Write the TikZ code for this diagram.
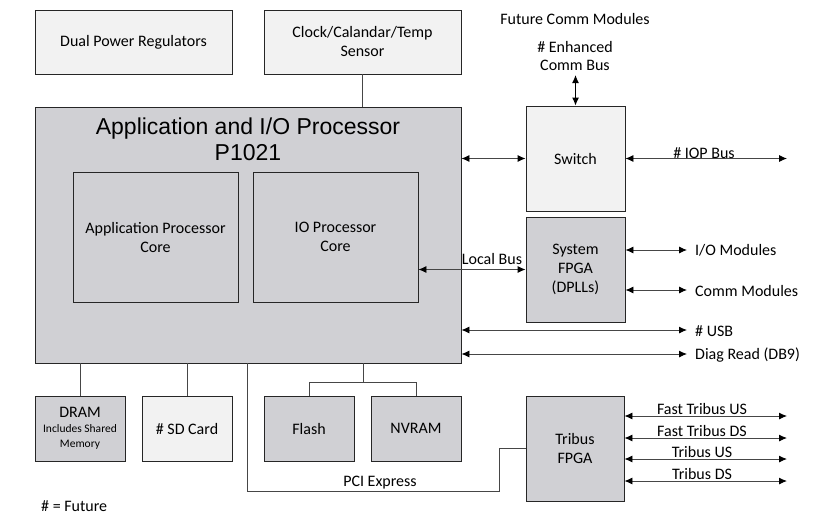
\documentclass[tikz,border=0pt]{standalone}
\usepackage{fontspec}
\setmainfont{Carlito}
\newfontfamily\arialf{Liberation Sans}
\usetikzlibrary{arrows.meta}
\definecolor{lightbox}{RGB}{242,242,242}
\definecolor{graybox}{RGB}{208,208,212}
\definecolor{linec}{RGB}{70,70,70}
\tikzset{
  boxl/.style={draw=black!85,line width=0.9pt,fill=lightbox,inner sep=2pt,align=center,font=\fontsize{16}{19}\selectfont},
  boxg/.style={boxl,fill=graybox},
  conn/.style={draw=linec,line width=0.9pt},
  arr/.style={conn,{Latex[length=8pt,width=7pt,color=black]}-{Latex[length=8pt,width=7pt,color=black]}},
  uarr/.style={draw=black,line width=1.1pt,{Latex[length=8pt,width=7pt]}-{Latex[length=8pt,width=7pt]}},
  lbl/.style={font=\fontsize{16}{18}\selectfont,inner sep=1pt,align=center},
}
\begin{document}
\begin{tikzpicture}[x=1pt,y=-1pt]
\useasboundingbox (0,0) rectangle (819,520);
% boxes
\node[boxl,minimum width=197pt,minimum height=64pt] (dual) at (133.5,42) {Dual Power Regulators};
\node[boxl,minimum width=197pt,minimum height=64pt] (clock) at (362.5,42) {Clock/Calandar/Temp\\Sensor};
\node[boxg,minimum width=426pt,minimum height=256pt] (main) at (248,235) {};
\node[font=\arialf\fontsize{23}{26}\selectfont,align=center] (title) at (248,139) {Application and I/O Processor\\P1021};
\node[boxg,minimum width=165pt,minimum height=130pt] (appcore) at (155.5,237) {Application Processor\\Core};
\node[boxg,minimum width=165pt,minimum height=130pt] (iocore) at (335.5,237) {IO Processor\\Core};
\node[boxl,minimum width=99pt,minimum height=105pt] (sw) at (575.5,158.5) {Switch};
\node[boxg,minimum width=99pt,minimum height=105pt] (sys) at (575.5,269.5) {System\\FPGA\\(DPLLs)};
\node[boxg,minimum width=98pt,minimum height=105pt] (trib) at (575,448.5) {Tribus\\FPGA};
\node[boxg,minimum width=90pt,minimum height=65pt] (dram) at (80,428.5) {DRAM\\[-4pt]{\fontsize{11.5}{13}\selectfont Includes Shared}\\[-4pt]{\fontsize{11.5}{13}\selectfont Memory}};
\node[boxl,minimum width=90pt,minimum height=65pt] (sd) at (187,428.5) {\# SD Card};
\node[boxg,minimum width=90pt,minimum height=65pt] (flash) at (309,428.5) {Flash};
\node[boxg,minimum width=90pt,minimum height=65pt] (nvram) at (416,428.5) {NVRAM};
% free ends
\coordinate (iopE) at (787,158.5);
\coordinate (enhE) at (575.5,75);
\coordinate (ioE) at (687,250);
\coordinate (commE) at (687,290);
\coordinate (usbE) at (687,330);
\coordinate (diagE) at (687,354);
\coordinate (fusE) at (787,416);
\coordinate (fdsE) at (787,438);
\coordinate (tusE) at (787,459);
\coordinate (tdsE) at (787,481);
\coordinate (memJ) at (363,382);
\coordinate (pciA) at (247,491);
\coordinate (pciB) at (499,491);
% plain connectors
\draw[conn] (clock.south) -- (clock.south |- main.north);
\draw[conn] (dram.north) -- (dram.north |- main.south);
\draw[conn] (sd.north) -- (sd.north |- main.south);
\draw[conn] (memJ |- main.south) -- (memJ) -| (flash.north);
\draw[conn] (memJ) -| (nvram.north);
\draw[conn] (pciA |- main.south) -- (pciA) -- (pciB) |- (trib.west);
% arrows
\draw[arr] (main.east |- sw.west) -- (sw.west);
\draw[arr] (sw.east) -- (iopE);
\draw[uarr] (sw.north) -- (enhE);
\draw[arr] (iocore.east |- sys.west) -- (sys.west);
\draw[arr] (sys.east |- ioE) -- (ioE);
\draw[arr] (sys.east |- commE) -- (commE);
\draw[arr] (main.east |- usbE) -- (usbE);
\draw[arr] (main.east |- diagE) -- (diagE);
\draw[arr] (trib.east |- fusE) -- (fusE);
\draw[arr] (trib.east |- fdsE) -- (fdsE);
\draw[arr] (trib.east |- tusE) -- (tusE);
\draw[arr] (trib.east |- tdsE) -- (tdsE);
% labels
\node[lbl] (futcomm) at (575,19) {Future Comm Modules};
\node[lbl] (enh) at (575,56) {\# Enhanced\\Comm Bus};
\node[lbl,anchor=south] (iopl) at (704,160) {\# IOP Bus};
\node[lbl,anchor=south] (locall) at (492,266) {Local Bus};
\node[lbl,anchor=west] (iol) at (694,250) {I/O Modules};
\node[lbl,anchor=west] (comml) at (694,291) {Comm Modules};
\node[lbl,anchor=west] (usbl) at (694,331) {\# USB};
\node[lbl,anchor=west] (diagl) at (694,355) {Diag Read (DB9)};
\node[lbl,anchor=south] (fusl) at (702,416) {Fast Tribus US};
\node[lbl,anchor=south] (fdsl) at (702,438) {Fast Tribus DS};
\node[lbl,anchor=south] (tusl) at (702,459) {Tribus US};
\node[lbl,anchor=south] (tdsl) at (702,481) {Tribus DS};
\node[lbl,anchor=south] (pcil) at (380,490) {PCI Express};
\node[lbl,anchor=west] (fut) at (40,506) {\# = Future};
\end{tikzpicture}
\end{document}
